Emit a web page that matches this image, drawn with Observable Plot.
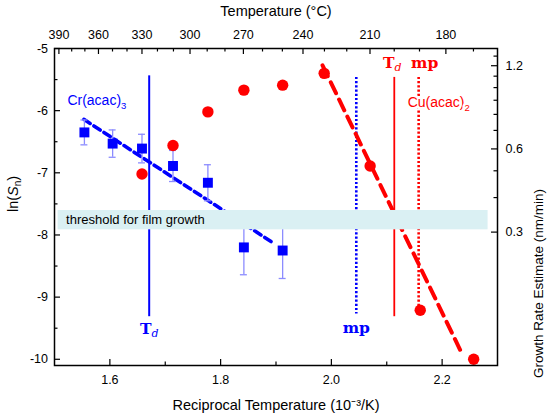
<!DOCTYPE html>
<html><head><meta charset="utf-8">
<script src="https://cdn.jsdelivr.net/npm/d3@7"></script>
<script src="https://cdn.jsdelivr.net/npm/@observablehq/plot@0.6"></script>
<style>html,body{margin:0;padding:0;background:#fff;overflow:hidden}</style>
</head><body><div id="chart"></div>
<script>
// ---- data (reciprocal temperature in 10^-3/K, ln(Sn)) ----
const cuX   = [1.658, 1.714, 1.777, 1.842, 1.912, 1.987, 2.070, 2.1605, 2.257];
const cuLnS = [-7.02, -6.56, -6.02, -5.67, -5.59, -5.40, -6.89, -9.21, -10.0];
const crX   = [1.554, 1.605, 1.658, 1.714, 1.777, 1.842, 1.912];
const crLnS = [-6.35, -6.53, -6.61, -6.89, -7.16, -8.20, -8.25];
const crErr = [0.20, 0.22, 0.23, 0.25, 0.29, 0.44, 0.45];
const crFitX = [1.553, 1.897];
const crFitY = [-6.14, -8.14];
const cuFitX = [1.984, 2.2375];
const cuFitY = [-5.27, -9.94];
// vertical markers: Cr Td, Cr mp, Cu Td, Cu mp
const markerX      = [1.671, 2.045, 2.1136, 2.1576];
const markerTop    = [-5.44, -5.465, -5.465, -5.465];
const markerBottom = [-9.315, -9.27, -9.315, -9.2];
// threshold band
const bandX = [1.5065, 2.283];
const bandY = [-7.606, -7.917];
// ticks
const xMajor = [1.6, 1.8, 2.0, 2.2];
const xMinor = [1.7, 1.9, 2.1];
const yMajor = [-10, -9, -8, -7, -6, -5];
const yMinor = [-9.5, -8.5, -7.5, -6.5, -5.5];
const tempMajor = [390, 360, 330, 300, 270, 240, 210, 180];
const tempMinor = [380, 370, 350, 340, 320, 310, 290, 280, 260, 250, 230, 220, 200, 190, 170];
const growthMajor = [0.3, 0.6, 1.2];
const growthMinor = [0.4, 0.5, 0.7, 0.8, 0.9, 1.0, 1.1, 1.3];

// axis mappings
const toX = t => 1000 / (t + 273.15);
const toLn = g => -5.277 + 1.931 * Math.log(g / 1.2);
const fromLn = y => 1.2 * Math.exp((y + 5.277) / 1.931);

const cuPts = cuX.map((x, i) => ({x, y: cuLnS[i]}));
const crPts = crX.map((x, i) => ({x, y: crLnS[i], lo: crLnS[i] - crErr[i], hi: crLnS[i] + crErr[i]}));
const crFit = crFitX.map((x, i) => ({x, y: crFitY[i]}));
const cuFit = cuFitX.map((x, i) => ({x, y: cuFitY[i]}));
const markers = markerX.map((x, i) => ({x, y1: markerTop[i], y2: markerBottom[i]}));
const capHalf = 0.0063;

const W = 550, H = 414, ML = 54, MR = 53, MT = 48, MB = 49;
const FW = W - ML - MR, FH = H - MT - MB;
const MAJ = 6, MIN = 3.5;

const blue = "#0000ff", red = "#ff0000", errC = "#8c8cff";
const serif = "DejaVu Serif, serif";
const tk = {stroke: "#000", strokeWidth: 1.2};

const plot = Plot.plot({
  width: W, height: H,
  marginLeft: ML, marginRight: MR, marginTop: MT, marginBottom: MB,
  x: {domain: [1.5, 2.3]},
  y: {domain: [-10.1, -5]},
  style: {fontFamily: "Liberation Sans, Arial, sans-serif", fontSize: "12.5px", background: "#fff", color: "#000"},
  marks: [
    Plot.ruleX([markers[0]], {x: "x", y1: "y1", y2: "y2", stroke: blue, strokeWidth: 2}),
    Plot.ruleX([markers[1]], {x: "x", y1: "y1", y2: "y2", stroke: blue, strokeWidth: 2.6, strokeDasharray: "2.2,2"}),
    Plot.ruleX([markers[2]], {x: "x", y1: "y1", y2: "y2", stroke: red, strokeWidth: 1.8}),
    Plot.ruleX([markers[3]], {x: "x", y1: "y1", y2: "y2", stroke: red, strokeWidth: 2.6, strokeDasharray: "2.2,2"}),
    Plot.line(crFit, {x: "x", y: "y", stroke: blue, strokeWidth: 3.6, strokeDasharray: "7.5,4.5"}),
    Plot.line(cuFit, {x: "x", y: "y", stroke: red, strokeWidth: 4, strokeDasharray: "12,7"}),
    Plot.ruleX(crPts, {x: "x", y1: "lo", y2: "hi", stroke: errC, strokeWidth: 1.3}),
    Plot.ruleY(crPts, {y: "lo", x1: d => d.x - capHalf, x2: d => d.x + capHalf, stroke: errC, strokeWidth: 1.3}),
    Plot.ruleY(crPts, {y: "hi", x1: d => d.x - capHalf, x2: d => d.x + capHalf, stroke: errC, strokeWidth: 1.3}),
    Plot.dot(crPts, {x: "x", y: "y", symbol: "square", r: 5.6, fill: blue}),
    Plot.dot(cuPts, {x: "x", y: "y", r: 5.7, fill: red}),
    Plot.rect([{x1: bandX[0], x2: bandX[1], y1: bandY[0], y2: bandY[1]}], {x1: "x1", x2: "x2", y1: "y1", y2: "y2", fill: "#daf0f3"}),
    Plot.text(["threshold for film growth"], {x: bandX[0], y: (bandY[0] + bandY[1]) / 2, dx: 8, text: d => d, textAnchor: "start", fontSize: 13, fill: "#000"}),
    Plot.text(["Cr(acac)3"], {x: crX[0], y: -5.84, dx: -17, text: d => d, textAnchor: "start", fontSize: 14, fill: blue}),
    Plot.text(["Cu(acac)2"], {x: markerX[3], y: -5.865, dx: -11, text: d => d, textAnchor: "start", fontSize: 14, fill: red, stroke: "#fff", strokeWidth: 5}),
    Plot.text(["Td"], {x: markerX[0], y: markerBottom[0], dy: 12, text: d => d, fontFamily: serif, fontWeight: "bold", fontSize: 15.5, fill: blue}),
    Plot.text(["mp"], {x: markerX[1], y: markerBottom[1], dy: 14, text: d => d, fontFamily: serif, fontWeight: "bold", fontSize: 15.5, fill: blue}),
    Plot.text(["Td"], {x: markerX[2], y: markerTop[2], dy: -14, dx: -2, text: d => d, fontFamily: serif, fontWeight: "bold", fontSize: 15.5, fill: red}),
    Plot.text(["mp"], {x: markerX[3], y: markerTop[3], dy: -14, dx: 6, text: d => d, fontFamily: serif, fontWeight: "bold", fontSize: 15.5, fill: red}),
    Plot.frame({stroke: "#000", strokeWidth: 1.5}),
    // inward ticks
    Plot.tickX(xMajor, {x: d => d, insetTop: FH - MAJ, ...tk}),
    Plot.tickX(xMinor, {x: d => d, insetTop: FH - MIN, ...tk}),
    Plot.tickX(tempMajor.map(toX), {x: d => d, insetBottom: FH - MAJ, ...tk}),
    Plot.tickX(tempMinor.map(toX), {x: d => d, insetBottom: FH - MIN, ...tk}),
    Plot.tickY(yMajor, {y: d => d, insetRight: FW - MAJ, ...tk}),
    Plot.tickY(yMinor, {y: d => d, insetRight: FW - MIN, ...tk}),
    Plot.tickY(growthMajor.map(toLn), {y: d => d, insetLeft: FW - MAJ, ...tk}),
    Plot.tickY(growthMinor.map(toLn), {y: d => d, insetLeft: FW - MIN, ...tk}),
    // tick labels
    Plot.axisX({anchor: "bottom", ticks: xMajor, tickSize: 0, tickPadding: 10, tickFormat: d3.format(".1f"), label: null}),
    Plot.axisX({anchor: "top", ticks: tempMajor.map(toX), tickSize: 0, tickPadding: 10, tickFormat: x => String(Math.round(1000 / x - 273.15)), label: null}),
    Plot.axisY({anchor: "left", ticks: yMajor, tickSize: 0, tickPadding: 6.5, tickFormat: d => String(d), label: null}),
    Plot.axisY({anchor: "right", ticks: growthMajor.map(toLn), tickSize: 0, tickPadding: 8, tickFormat: y => d3.format(".1f")(fromLn(y)), label: null}),
    // axis titles
    Plot.text(["Reciprocal Temperature (10⁻³/K)"], {frameAnchor: "bottom", dy: 40, lineAnchor: "middle", text: d => d, fontSize: 14.5}),
    Plot.text(["Temperature (°C)"], {frameAnchor: "top", dy: -37, lineAnchor: "middle", text: d => d, fontSize: 14.5}),
    Plot.text(["ln(Sn)"], {frameAnchor: "left", dx: -41, dy: 5, rotate: -90, lineAnchor: "middle", text: d => d, fontSize: 14.5}),
    Plot.text(["Growth Rate Estimate (nm/min)"], {frameAnchor: "right", dx: 41, dy: -18, rotate: -90, lineAnchor: "middle", text: d => d, fontSize: 13.5})
  ]
});

// rich text (subscripts / italics)
const NS = "http://www.w3.org/2000/svg";
function ts(parent, text, attrs = {}) {
  const e = document.createElementNS(NS, "tspan");
  e.textContent = text;
  for (const [k, v] of Object.entries(attrs)) e.setAttribute(k, v);
  parent.appendChild(e);
}
function rich(svg, plain, build) {
  for (const t of svg.querySelectorAll("text")) {
    if (t.textContent === plain && !t.querySelector("tspan")) {
      t.textContent = "";
      build(t);
    }
  }
}
rich(plot, "Cr(acac)3", t => { ts(t, "Cr(acac)"); ts(t, "3", {"font-size": 9.5, dy: 4}); });
rich(plot, "Cu(acac)2", t => { ts(t, "Cu(acac)"); ts(t, "2", {"font-size": 9.5, dy: 4}); });
rich(plot, "Td", t => { ts(t, "T"); ts(t, "d", {"font-size": 11, dy: 3, "font-style": "italic", "font-weight": "normal"}); });
rich(plot, "ln(Sn)", t => { ts(t, "ln("); ts(t, "S", {"font-style": "italic"}); ts(t, "n", {"font-size": 10, dy: 3}); ts(t, ")", {dy: -3}); });

document.getElementById("chart").appendChild(plot);
</script></body></html>
